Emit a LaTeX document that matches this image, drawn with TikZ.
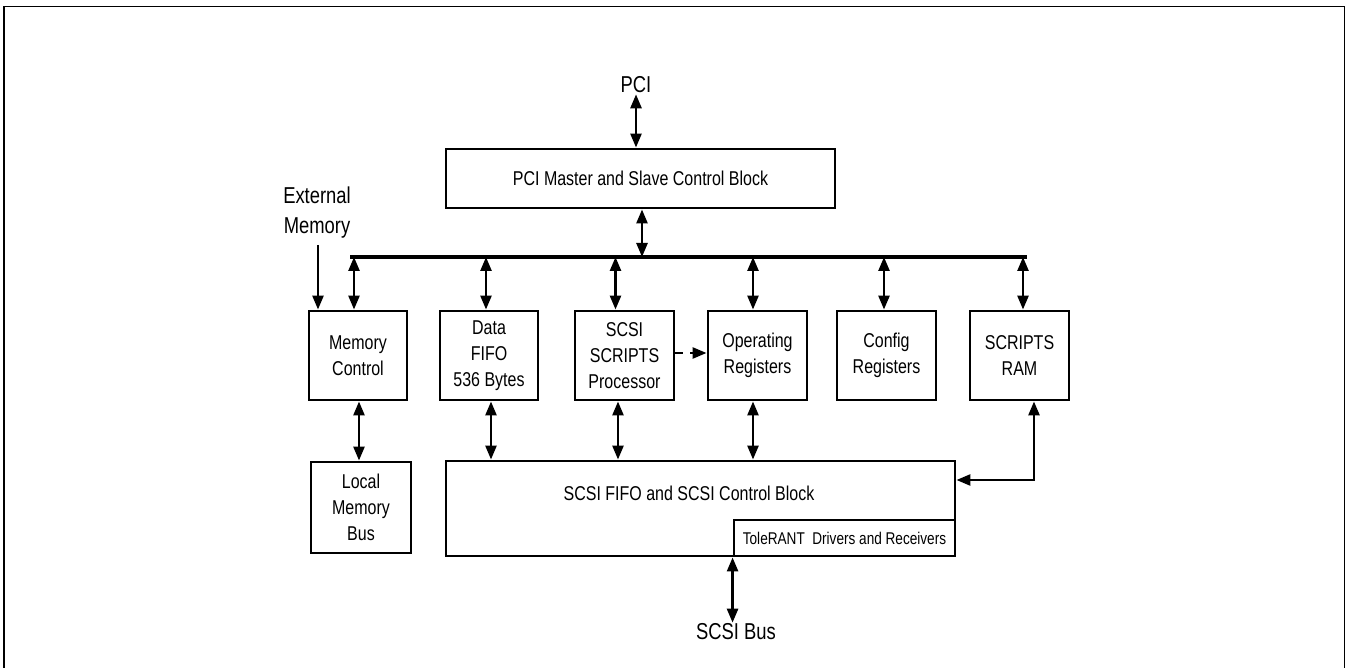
\documentclass[tikz,border=0pt]{standalone}
\usepackage{fontspec}
\setmainfont{Liberation Sans}[FakeStretch=0.8]
\usetikzlibrary{arrows.meta}
\begin{document}
\begin{tikzpicture}[x=1pt,y=-1pt,
  box/.style={draw,line width=2.9pt,align=center,inner sep=0pt,font=\fontsize{20}{26}\selectfont},
  lbl/.style={align=center,inner sep=1pt,font=\fontsize{23}{30}\selectfont},
  dbl/.style={line width=2.6pt,{Triangle[length=14pt,width=11pt]}-{Triangle[length=14pt,width=11pt]}},
  sgl/.style={line width=2.6pt,-{Triangle[length=14pt,width=11pt]}},
  busline/.style={line width=3.4pt}]
\useasboundingbox (0,0) rectangle (1346,668);
\draw[line width=1.8pt] (4,668) -- (4,6.5) -- (1344.5,6.5) -- (1344.5,668);
% boxes
\node[box,minimum width=389pt,minimum height=59pt] (pcib) at (640.5,178.5) {PCI Master and Slave Control Block};
\node[box,minimum width=98pt,minimum height=89pt] (memc) at (358,355.5) {Memory\\Control};
\node[box,minimum width=98pt,minimum height=89pt] (dfifo) at (489,355.5) {Data\\FIFO\\536 Bytes};
\node[box,minimum width=99pt,minimum height=89pt] (ssp) at (624.5,355.5) {SCSI\\SCRIPTS\\Processor};
\node[box,minimum width=99pt,minimum height=89pt] (opreg) at (757.5,355.5) {Operating\\Registers};
\node[box,minimum width=99pt,minimum height=89pt] (cfg) at (886.5,355.5) {Config\\Registers};
\node[box,minimum width=99pt,minimum height=89pt] (ram) at (1019.5,355.5) {SCRIPTS\\RAM};
\node[box,minimum width=100pt,minimum height=91pt] (lmb) at (361,507.5) {Local\\Memory\\Bus};
\node[box,minimum width=509pt,minimum height=95pt] (sfifo) at (700.5,508.5) {};
\node[font=\fontsize{20}{26}\selectfont,inner sep=0pt] (sfifot) at (689,493) {SCSI FIFO and SCSI Control Block};
\node[box,minimum width=221pt,minimum height=36pt,font=\fontsize{17}{20}\selectfont] (tol) at (844.5,538) {ToleRANT\ \ Drivers and Receivers};
% labels
\node[lbl] (pci) at (636,85) {PCI};
\node[lbl] (ext) at (317,213) {External\\Memory};
\node[lbl] (sbus) at (736,632) {SCSI Bus};
% bus
\coordinate (busL) at (350,257);
\coordinate (busR) at (1027,257);
\draw[busline] (busL) -- (busR);
\coordinate (b0) at (642,257);
\coordinate (e0) at (318,245);
\coordinate (rc) at (1034,480);
% arrows
\draw[dbl] (pci.south) -- (pci.south |- pcib.north);
\draw[dbl] (b0 |- pcib.south) -- (b0);
\draw[sgl] (e0) -- (e0 |- memc.north);
\draw[dbl] ([xshift=-4pt]memc.north |- b0) -- ([xshift=-4pt]memc.north);
\draw[dbl] ([xshift=-3pt]dfifo.north |- b0) -- ([xshift=-3pt]dfifo.north);
\draw[dbl] ([xshift=-9pt]ssp.north |- b0) -- ([xshift=-9pt]ssp.north);
\draw[dbl] ([xshift=-4.5pt]opreg.north |- b0) -- ([xshift=-4.5pt]opreg.north);
\draw[dbl] ([xshift=-2.5pt]cfg.north |- b0) -- ([xshift=-2.5pt]cfg.north);
\draw[dbl] ([xshift=3.5pt]ram.north |- b0) -- ([xshift=3.5pt]ram.north);
\draw[sgl,dash pattern=on 8pt off 7pt] ([yshift=2.5pt]ssp.east) -- ([yshift=2.5pt]opreg.west);
\draw[dbl] ([xshift=1pt]memc.south) -- ([xshift=1pt]memc.south |- lmb.north);
\draw[dbl] ([xshift=2pt]dfifo.south) -- ([xshift=2pt]dfifo.south |- sfifo.north);
\draw[dbl] ([xshift=-6.5pt]ssp.south) -- ([xshift=-6.5pt]ssp.south |- sfifo.north);
\draw[dbl] ([xshift=-4.5pt]opreg.south) -- ([xshift=-4.5pt]opreg.south |- sfifo.north);
\draw[dbl] (rc |- ram.south) -- (rc) -- (rc -| sfifo.east);
\draw[dbl] (tol.south west) -- (tol.south west |- sbus.north);
\end{tikzpicture}
\end{document}
